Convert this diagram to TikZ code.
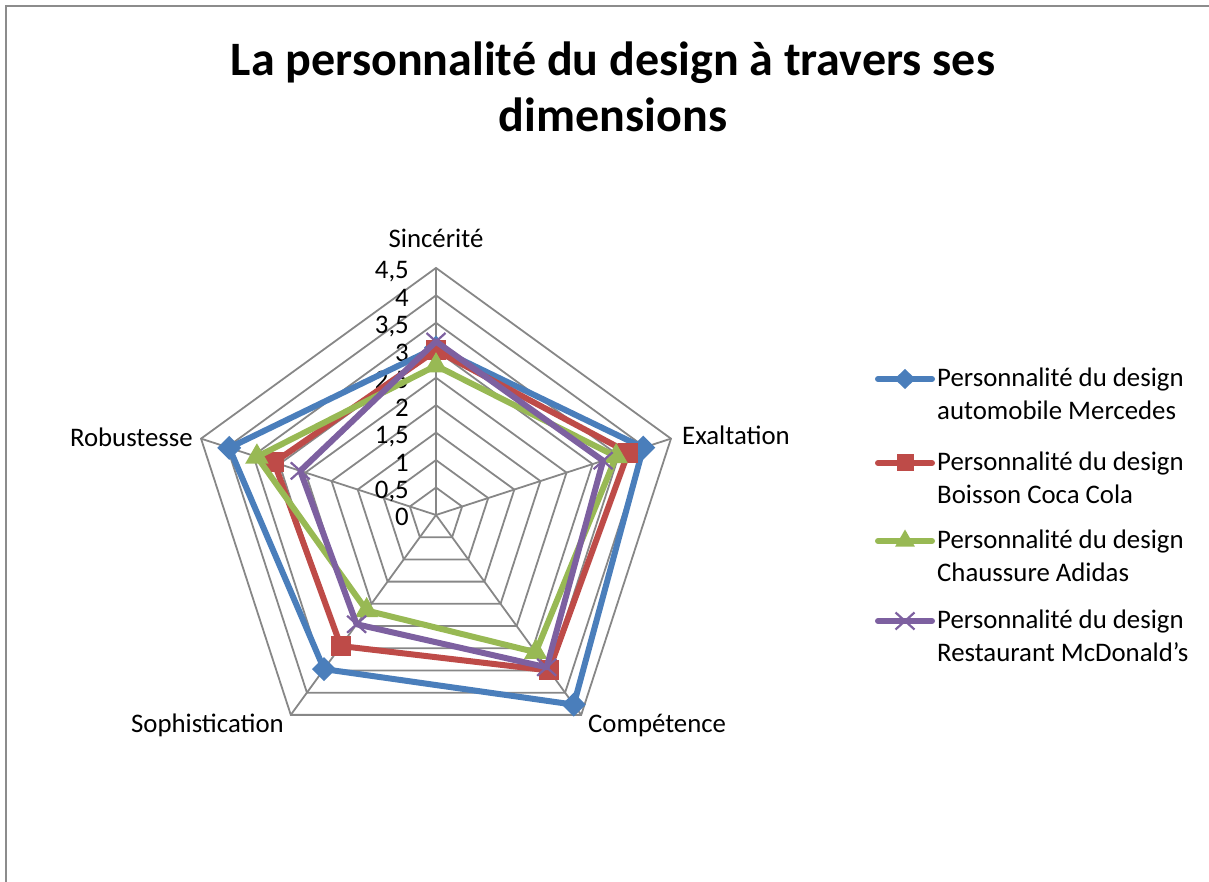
\documentclass[tikz,border=0pt]{standalone}
\usepackage{fontspec}
\setmainfont{Carlito}
\usetikzlibrary{shapes.geometric,shapes.misc,calc}
\definecolor{sblue}{HTML}{4A7EBB}
\definecolor{sred}{HTML}{BE4B48}
\definecolor{sgreen}{HTML}{98B954}
\definecolor{spurple}{HTML}{7D60A0}
\definecolor{gridgray}{HTML}{878787}
\definecolor{framegray}{HTML}{8C8C8C}
\begin{document}
\begin{tikzpicture}[x=1pt,y=1pt,
  frame/.style={draw=framegray,line width=1.6pt},
  grid/.style={draw=gridgray,line width=1.8pt,line join=miter},
  series/.style={line width=6pt,line join=round,line cap=round},
  lbl/.style={inner sep=0pt,font=\fontsize{26.8}{32}\selectfont},
  ttl/.style={inner sep=0pt,font=\fontsize{48}{57}\selectfont\bfseries},
  mk/.style={inner sep=0pt,outer sep=0pt,draw=none},
  bluemk/.style={mk,diamond,fill=sblue,minimum width=24pt,minimum height=24pt},
  redmk/.style={mk,rectangle,fill=sred,minimum size=20pt},
  greenmk/.style={mk,regular polygon,regular polygon sides=3,fill=sgreen,minimum size=27pt},
  purplemk/.style={mk,cross out,draw=spurple,line width=2.2pt,minimum width=19pt,minimum height=17pt},
]
\useasboundingbox (0,0) rectangle (1209,882);
% frame
\coordinate (ftr) at (1209,876);
\coordinate (ftl) at (6,876);
\coordinate (fbl) at (6,0);
\draw[frame] (ftr) -- (ftl) -- (fbl);

% title
\node[ttl,anchor=base] (title1) at (613,806) {La personnalité du design à travers ses};
\node[ttl,anchor=base] (title2) at (613,750) {dimensions};

\begin{scope}[shift={(436,367)}]
  \def\U{54.9}
  \coordinate (o) at (0,0);
  % rings
  \foreach \v in {0.5,1,...,4.5}{
    \draw[grid] (90:{\v*\U}) -- (18:{\v*\U}) -- (-54:{\v*\U}) -- (-126:{\v*\U}) -- (162:{\v*\U}) -- cycle;
  }
  % spokes
  \coordinate (v1) at (90:{4.5*\U});
  \coordinate (v2) at (18:{4.5*\U});
  \coordinate (v3) at (-54:{4.5*\U});
  \coordinate (v4) at (-126:{4.5*\U});
  \coordinate (v5) at (162:{4.5*\U});
  \foreach \k in {1,...,5}{ \draw[grid] (o) -- (v\k); }
  % tick labels
  \foreach \v/\t [count=\i] in {0/0,0.5/{0,5},1/1,1.5/{1,5},2/2,2.5/{2,5},3/3,3.5/{3,5},4/4,4.5/{4,5}}{
    \node[lbl,anchor=base east] (tick\i) at (-27,{\v*\U-11}) {\t};
  }
  % data
  \coordinate (b1) at (90:{3.05*\U});
  \coordinate (b2) at (18:{3.97*\U});
  \coordinate (b3) at (-54:{4.27*\U});
  \coordinate (b4) at (-126:{3.47*\U});
  \coordinate (b5) at (162:{3.96*\U});
  \coordinate (r1) at (90:{3.0*\U});
  \coordinate (r2) at (18:{3.68*\U});
  \coordinate (r3) at (-54:{3.5*\U});
  \coordinate (r4) at (-126:{2.95*\U});
  \coordinate (r5) at (162:{3.1*\U});
  \coordinate (g1) at (90:{2.72*\U});
  \coordinate (g2) at (18:{3.45*\U});
  \coordinate (g3) at (-54:{3.09*\U});
  \coordinate (g4) at (-126:{2.15*\U});
  \coordinate (g5) at (162:{3.43*\U});
  \coordinate (p1) at (90:{3.16*\U});
  \coordinate (p2) at (18:{3.2*\U});
  \coordinate (p3) at (-54:{3.43*\U});
  \coordinate (p4) at (-126:{2.46*\U});
  \coordinate (p5) at (162:{2.6*\U});
  \draw[series,sblue] (b1) -- (b2) -- (b3) -- (b4) -- (b5) -- cycle;
  \foreach \k in {1,...,5}{ \node[bluemk] (mb\k) at (b\k) {}; }
  \draw[series,sred] (r1) -- (r2) -- (r3) -- (r4) -- (r5) -- cycle;
  \foreach \k in {1,...,5}{ \node[redmk] (mr\k) at (r\k) {}; }
  \draw[series,sgreen] (g1) -- (g2) -- (g3) -- (g4) -- (g5) -- cycle;
  \foreach \k in {1,...,5}{ \node[greenmk] (mg\k) at (g\k) {}; }
  \draw[series,spurple] (p1) -- (p2) -- (p3) -- (p4) -- (p5) -- cycle;
  \foreach \k in {1,...,5}{ \node[purplemk] (mp\k) at (p\k) {}; }
\end{scope}

% axis labels
\node[lbl,anchor=base] (axS) at (436,634) {Sincérité};
\node[lbl,anchor=base west] (axE) at (682,437) {Exaltation};
\node[lbl,anchor=base west] (axC) at (588,149) {Compétence};
\node[lbl,anchor=base east] (axSo) at (284,149) {Sophistication};
\node[lbl,anchor=base east] (axR) at (193,435) {Robustesse};

% legend
\coordinate (la1) at (878,503); \coordinate (lb1) at (932,503);
\coordinate (la2) at (878,419); \coordinate (lb2) at (932,419);
\coordinate (la3) at (878,341); \coordinate (lb3) at (932,341);
\coordinate (la4) at (878,261); \coordinate (lb4) at (932,261);
\draw[series,sblue] (la1) -- (lb1);
\node[bluemk,minimum width=21pt,minimum height=20pt] (lm1) at ($ (la1)!0.5!(lb1) $) {};
\draw[series,sred] (la2) -- (lb2);
\node[redmk,minimum size=17pt] (lm2) at ($ (la2)!0.5!(lb2) $) {};
\draw[series,sgreen] (la3) -- (lb3);
\node[greenmk,minimum size=23pt] (lm3) at ($ (la3)!0.5!(lb3) $) {};
\draw[series,spurple] (la4) -- (lb4);
\node[purplemk] (lm4) at ($ (la4)!0.5!(lb4) $) {};

\node[lbl,anchor=base west] (l1a) at (937,495) {Personnalité du design};
\node[lbl,anchor=base west] (l1b) at (937,462) {automobile Mercedes};
\node[lbl,anchor=base west] (l2a) at (937,411) {Personnalité du design};
\node[lbl,anchor=base west] (l2b) at (937,378) {Boisson Coca Cola};
\node[lbl,anchor=base west] (l3a) at (937,333) {Personnalité du design};
\node[lbl,anchor=base west] (l3b) at (937,300) {Chaussure Adidas};
\node[lbl,anchor=base west] (l4a) at (937,253) {Personnalité du design};
\node[lbl,anchor=base west] (l4b) at (937,220) {Restaurant McDonald’s};
\end{tikzpicture}
\end{document}
